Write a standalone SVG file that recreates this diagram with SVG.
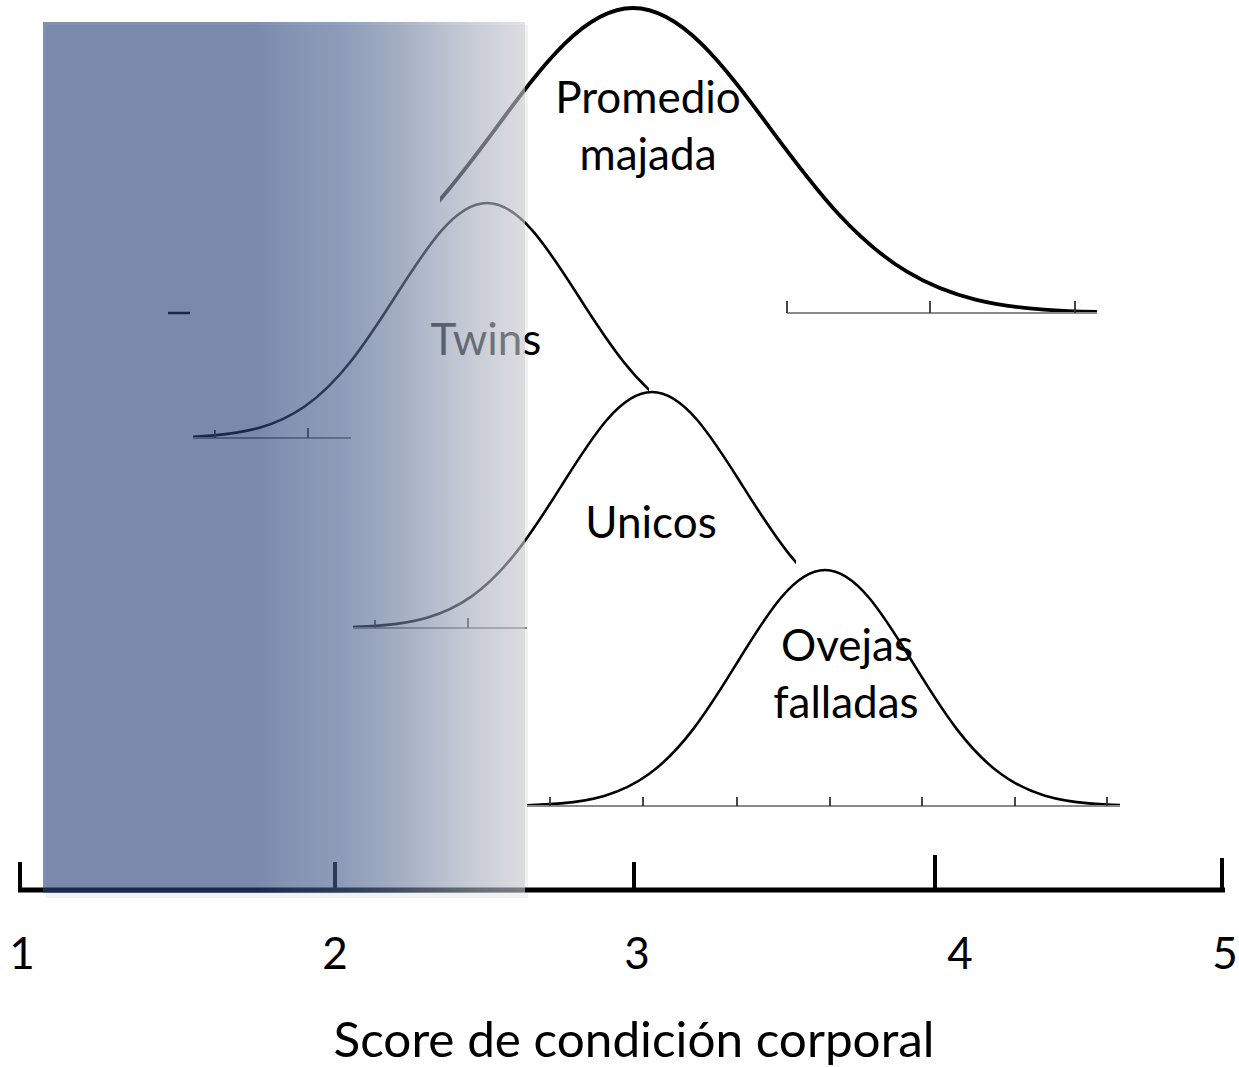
<svg xmlns="http://www.w3.org/2000/svg" xmlns:xlink="http://www.w3.org/1999/xlink" width="1239" height="1067" viewBox="0 0 1239 1067">
<style>
  .lbl{font-family:Lato,"Liberation Sans",sans-serif;font-size:44px;fill:#000;text-anchor:middle}
  .thick{fill:none;stroke:#000;stroke-width:3.8;stroke-linecap:round}
  .thin{fill:none;stroke:#000;stroke-width:2.6}
  .base{stroke:#8a8a8a;stroke-width:2;fill:none}
  .tick{stroke:#333;stroke-width:1.8}
  .axis{stroke:#000;stroke-width:5;fill:none}
  .atick{stroke:#000;stroke-width:4}
</style>
<defs>
  <path id="g" vector-effect="non-scaling-stroke" d="M-3.5,-0.0022 C-3.3333,-0.0035 -3.1667,-0.0056 -3,-0.0111 C-2.8333,-0.0167 -2.6667,-0.0256 -2.5,-0.0439 C-2.3333,-0.0622 -2.1667,-0.0902 -2,-0.1353 C-1.8333,-0.1804 -1.6667,-0.2435 -1.5,-0.3247 C-1.3333,-0.4059 -1.1667,-0.5054 -1,-0.6065 C-0.8333,-0.7076 -0.6667,-0.809 -0.5,-0.8825 C-0.3333,-0.956 -0.1667,-1 0,-1 C0.1667,-1 0.3333,-0.956 0.5,-0.8825 C0.6667,-0.809 0.8333,-0.7076 1,-0.6065 C1.1667,-0.5054 1.3333,-0.4059 1.5,-0.3247 C1.6667,-0.2435 1.8333,-0.1804 2,-0.1353 C2.1667,-0.0902 2.3333,-0.0622 2.5,-0.0439 C2.6667,-0.0256 2.8333,-0.0167 3,-0.0111 C3.1667,-0.0056 3.3333,-0.0035 3.5,-0.0022"/>
  <clipPath id="cP" clipPathUnits="userSpaceOnUse"><rect x="440" y="0" width="657" height="330"/></clipPath>
  <clipPath id="cT" clipPathUnits="userSpaceOnUse"><rect x="193" y="150" width="456" height="300"/></clipPath>
  <clipPath id="cU" clipPathUnits="userSpaceOnUse"><rect x="353" y="340" width="443" height="300"/></clipPath>
  <clipPath id="cO" clipPathUnits="userSpaceOnUse"><rect x="527" y="520" width="593" height="300"/></clipPath>
  <linearGradient id="ov" x1="0" y1="0" x2="1" y2="0">
    <stop offset="0" stop-color="rgb(40,68,126)" stop-opacity="0.6"/>
    <stop offset="0.44" stop-color="rgb(40,68,126)" stop-opacity="0.6"/>
    <stop offset="0.52" stop-color="rgb(60,86,137)" stop-opacity="0.6"/>
    <stop offset="0.62" stop-color="rgb(75,98,146)" stop-opacity="0.6"/>
    <stop offset="0.72" stop-color="rgb(105,123,160)" stop-opacity="0.6"/>
    <stop offset="0.86" stop-color="rgb(160,170,189)" stop-opacity="0.6"/>
    <stop offset="1" stop-color="rgb(205,207,213)" stop-opacity="0.6"/>
  </linearGradient>
</defs>
<rect width="1239" height="1067" fill="#fff"/>

<g id="promedio-majada">
  <g clip-path="url(#cP)"><use xlink:href="#g" class="thick" transform="translate(633,313) scale(137,305)"/></g>
  <line class="base" x1="787" y1="313" x2="1097" y2="313"/>
  <line class="tick" x1="787" y1="301" x2="787" y2="313"/>
  <line class="tick" x1="930" y1="301" x2="930" y2="313"/>
  <line class="tick" x1="1075" y1="301" x2="1075" y2="313"/>
  <text class="lbl" x="648" y="113">Promedio</text>
  <text class="lbl" x="648" y="170">majada</text>
</g>

<g id="twins">
  <line x1="168" y1="313" x2="190" y2="313" stroke="#000" stroke-width="2.5"/>
  <g clip-path="url(#cT)"><use xlink:href="#g" class="thin" transform="translate(487,438) scale(91,235)"/></g>
  <line class="base" x1="193" y1="438" x2="351" y2="438"/>
  <line class="tick" x1="215" y1="430" x2="215" y2="438"/>
  <line class="tick" x1="308" y1="428" x2="308" y2="438"/>
  <text class="lbl" x="486" y="355">Twins</text>
</g>

<g id="unicos">
  <g clip-path="url(#cU)"><use xlink:href="#g" class="thin" transform="translate(652,628) scale(90,236)"/></g>
  <line class="base" x1="353" y1="628" x2="527" y2="628"/>
  <line class="tick" x1="375" y1="620" x2="375" y2="628"/>
  <line class="tick" x1="468" y1="618" x2="468" y2="628"/>
  <text class="lbl" x="651" y="538">Unicos</text>
</g>

<g id="ovejas-falladas">
  <g clip-path="url(#cO)"><use xlink:href="#g" class="thin" transform="translate(825,806) scale(88,236)"/></g>
  <line class="base" x1="527" y1="806" x2="1120" y2="806"/>
  <g class="tick">
    <line x1="550" y1="797" x2="550" y2="806"/>
    <line x1="643" y1="797" x2="643" y2="806"/>
    <line x1="737" y1="797" x2="737" y2="806"/>
    <line x1="830" y1="797" x2="830" y2="806"/>
    <line x1="922" y1="797" x2="922" y2="806"/>
    <line x1="1015" y1="797" x2="1015" y2="806"/>
    <line x1="1107" y1="797" x2="1107" y2="806"/>
  </g>
  <text class="lbl" x="847" y="661">Ovejas</text>
  <text class="lbl" x="846" y="718">falladas</text>
</g>

<g id="axis">
  <line class="axis" x1="18" y1="890" x2="1225" y2="890"/>
  <line class="atick" x1="20" y1="862" x2="20" y2="892"/>
  <line class="atick" x1="335" y1="862" x2="335" y2="890"/>
  <line class="atick" x1="634" y1="862" x2="634" y2="890"/>
  <line class="atick" x1="935" y1="855" x2="935" y2="890"/>
  <line class="atick" x1="1222" y1="858" x2="1222" y2="892"/>
  <text class="lbl" x="22" y="969">1</text>
  <text class="lbl" x="335" y="969">2</text>
  <text class="lbl" x="637" y="969">3</text>
  <text class="lbl" x="960" y="969">4</text>
  <text class="lbl" x="1225" y="969">5</text>
  <text class="lbl" x="634" y="1057" style="font-size:48px" textLength="601" lengthAdjust="spacingAndGlyphs">Score de condición corporal</text>
</g>

<g id="overlay">
  <rect x="46" y="25" width="482" height="873" fill="#000" opacity="0.05"/>
  <rect x="43" y="22" width="482" height="871" fill="url(#ov)"/>
</g>
</svg>
